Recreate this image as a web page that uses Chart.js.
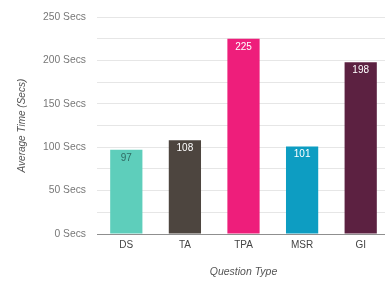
<!DOCTYPE html>
<html>
<head>
<meta charset="utf-8">
<script src="https://cdn.jsdelivr.net/npm/chart.js@4/dist/chart.umd.min.js"></script>
<style>
html,body{margin:0;padding:0;background:#fff;overflow:hidden;width:385px;height:287px;}
#wrap{width:392px;height:287px;}
</style>
</head>
<body>
<div id="wrap"><canvas id="c" width="392" height="287"></canvas></div>
<script>
const categories = ["DS", "TA", "TPA", "MSR", "GI"];
const avgTimes = [97, 108, 225, 101, 198];
const barColors = ["#5ecebb", "#4d453f", "#ee1e7b", "#0d9dc2", "#5c2141"];
const labelColors = ["#2f6b63", "#ffffff", "#ffffff", "#ffffff", "#ffffff"];
const yTicks = [0, 50, 100, 150, 200, 250];

const valueLabels = {
  id: 'valueLabels',
  afterDatasetsDraw(chart) {
    const ctx = chart.ctx;
    const meta = chart.getDatasetMeta(0);
    ctx.save();
    ctx.font = '10px "Liberation Sans", Arial, sans-serif';
    ctx.textAlign = 'center';
    ctx.textBaseline = 'middle';
    meta.data.forEach((bar, i) => {
      ctx.fillStyle = labelColors[i];
      ctx.fillText(String(avgTimes[i]), bar.x, bar.y + 8);
    });
    ctx.restore();
  }
};

new Chart(document.getElementById('c'), {
  type: 'bar',
  data: {
    labels: categories,
    datasets: [{
      data: avgTimes,
      backgroundColor: barColors,
      borderWidth: 0,
      barPercentage: 0.55,
      categoryPercentage: 1.0
    }]
  },
  options: {
    responsive: false,
    animation: false,
    layout: { padding: { left: 16, top: 15, right: 2, bottom: 0 } },
    plugins: { legend: { display: false }, tooltip: { enabled: false } },
    scales: {
      x: {
        grid: { display: false, drawTicks: false },
        border: { display: true, color: '#8f8f8f', width: 1 },
        ticks: { color: '#444', font: { family: '"Liberation Sans", Arial, sans-serif', size: 10 }, padding: 5 },
        title: { display: true, text: 'Question Type', color: '#555',
          font: { family: '"Liberation Sans", Arial, sans-serif', size: 10.5, style: 'italic' },
          padding: { top: 0, bottom: 9 } },
        afterFit(scale) { scale.height = 53; }
      },
      y: {
        min: 0, max: 250,
        border: { display: false },
        grid: { color: '#e6e6e6', drawTicks: false, lineWidth: 1 },
        ticks: {
          stepSize: 25,
          padding: 11,
          color: '#777',
          font: { family: '"Liberation Sans", Arial, sans-serif', size: 10.3 },
          callback(v) { return yTicks.includes(v) ? v + ' Secs' : ''; }
        },
        title: { display: true, text: 'Average Time (Secs)', color: '#555',
          font: { family: '"Liberation Sans", Arial, sans-serif', size: 10, style: 'italic' },
          padding: { top: 0, bottom: 0 } },
        afterFit(scale) { scale.width = 81; }
      }
    }
  },
  plugins: [valueLabels]
});
</script>
</body>
</html>
